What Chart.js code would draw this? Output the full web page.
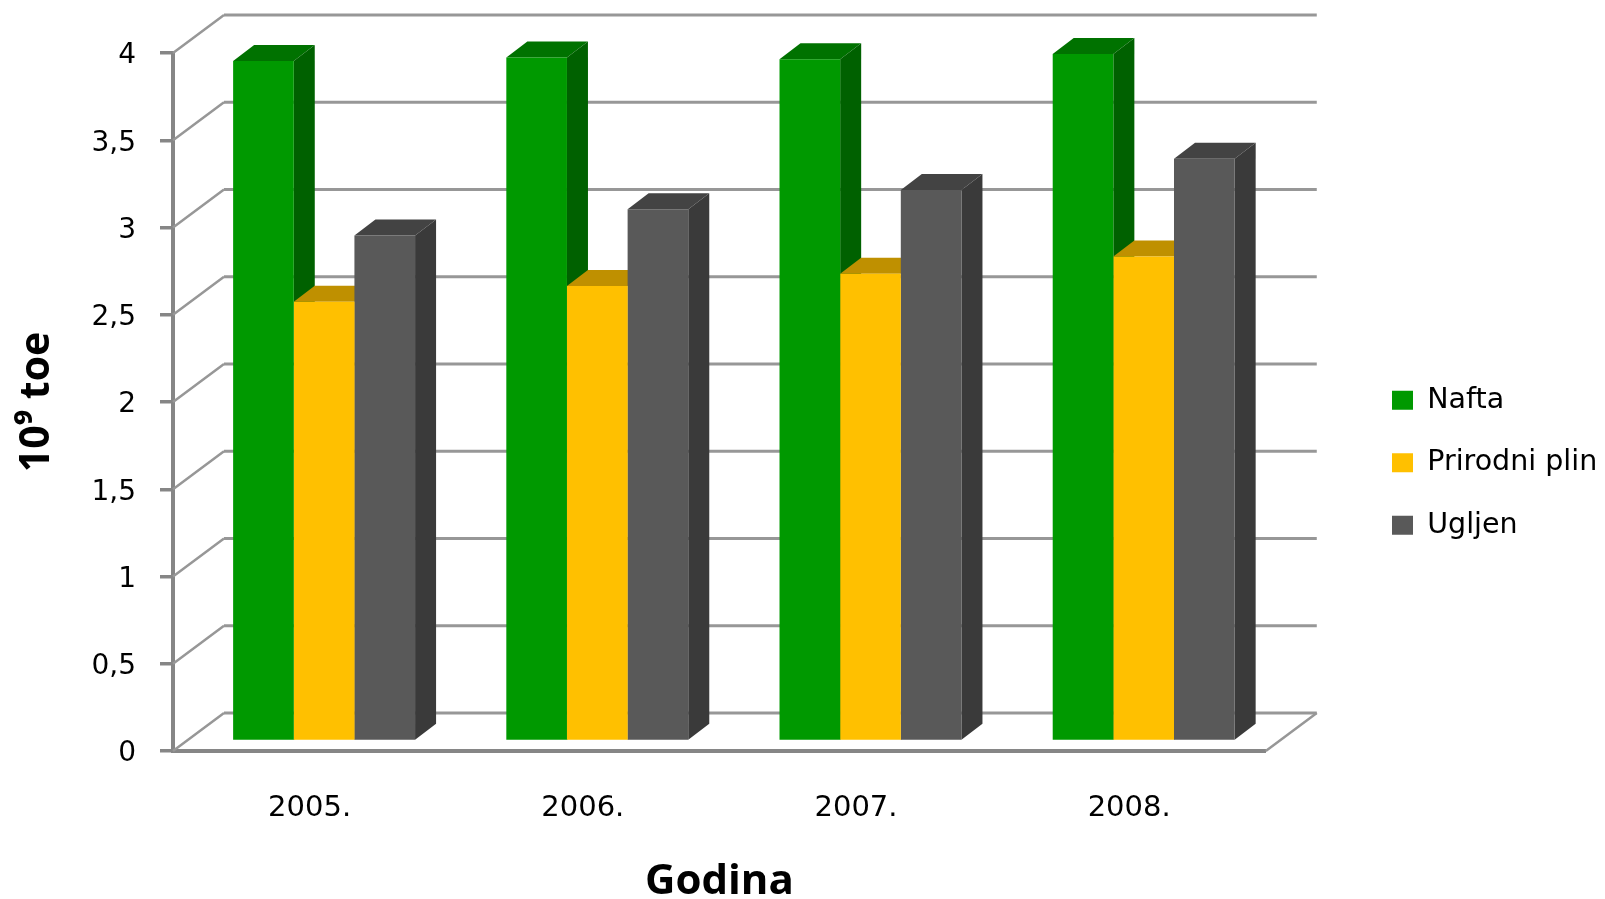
<!DOCTYPE html>
<html>
<head>
<meta charset="utf-8">
<script src="https://cdn.jsdelivr.net/npm/chart.js@4/dist/chart.umd.js"></script>
<style>
html, body { margin: 0; background: #fff; }
#wrap { width: 1605px; height: 899px; }
</style>
</head>
<body>
<div id="wrap"><canvas id="energyChart"></canvas></div>
<script>
// Data
const categories = ['2005.', '2006.', '2007.', '2008.'];
const naftaValues = [3.90, 3.92, 3.91, 3.94];
const plinValues = [2.52, 2.61, 2.68, 2.78];
const ugljenValues = [2.90, 3.05, 3.16, 3.34];
const yTickLabels = ['0', '0,5', '1', '1,5', '2', '2,5', '3', '3,5', '4'];

const frontColors = ['#009900', '#FFC000', '#595959'];
const sideColors = ['#006100', '#BF9000', '#3A3A3A'];
const topColors = ['#007200', '#BF9000', '#434343'];

const fontName = '"DejaVu Sans", sans-serif';
const titleFontName = '"Open Sans", sans-serif';

// bars stand inside the 3D floor, so they sit a little right of and above the front axis
const barShiftX = 14.5;
const barShiftY = -9.5;
const barDepthX = 21;
const barDepthY = 16;
// back wall offset
const wallX = 51;
const wallY = 38;

const wallPlugin = {
    id: 'wall3d',
    afterLayout(chart) {
        // legend sits away from the plot, not right next to it
        const l = chart.legend;
        l.left = 1358;
        l.right = l.left + l.width;
        l.top = 352;
        l.bottom = l.top + l.height;
    },
    beforeDatasetsDraw(chart) {
        const ctx = chart.ctx;
        const yScale = chart.scales.y;
        const area = chart.chartArea;

        ctx.save();
        ctx.strokeStyle = '#979797';
        yScale.ticks.forEach(function(tick) {
            const py = yScale.getPixelForValue(tick.value);
            ctx.lineWidth = 2.5;
            ctx.beginPath();
            ctx.moveTo(area.left, py);
            ctx.lineTo(area.left + wallX, py - wallY);
            ctx.stroke();
            ctx.lineWidth = 3;
            ctx.beginPath();
            ctx.moveTo(area.left + wallX, py - wallY);
            ctx.lineTo(area.right + wallX, py - wallY);
            ctx.stroke();
        });
        // right edge of the floor
        ctx.lineWidth = 2.5;
        ctx.beginPath();
        ctx.moveTo(area.right, yScale.getPixelForValue(0));
        ctx.lineTo(area.right + wallX, yScale.getPixelForValue(0) - wallY);
        ctx.stroke();
        ctx.restore();

        // left on until afterDatasetsDraw so the native fronts get the same shift
        ctx.save();
        ctx.translate(barShiftX, barShiftY);
        chart.data.datasets.forEach(function(ds, i) {
            chart.getDatasetMeta(i).data.forEach(function(bar) {
                const p = bar.getProps(['x', 'y', 'base', 'width'], true);
                const x0 = p.x - p.width / 2;
                const x1 = p.x + p.width / 2;
                ctx.fillStyle = topColors[i];
                ctx.beginPath();
                ctx.moveTo(x0, p.y);
                ctx.lineTo(x0 + barDepthX, p.y - barDepthY);
                ctx.lineTo(x1 + barDepthX, p.y - barDepthY);
                ctx.lineTo(x1, p.y);
                ctx.closePath();
                ctx.fill();
                ctx.fillStyle = sideColors[i];
                ctx.beginPath();
                ctx.moveTo(x1, p.y);
                ctx.lineTo(x1 + barDepthX, p.y - barDepthY);
                ctx.lineTo(x1 + barDepthX, p.base - barDepthY);
                ctx.lineTo(x1, p.base);
                ctx.closePath();
                ctx.fill();
            });
        });
    },
    afterDatasetsDraw(chart) {
        chart.ctx.restore();
    }
};

const energyChart = new Chart(document.getElementById('energyChart').getContext('2d'), {
    type: 'bar',
    plugins: [wallPlugin],
    data: {
        labels: categories,
        datasets: [
            { label: 'Nafta', data: naftaValues, backgroundColor: frontColors[0] },
            { label: 'Prirodni plin', data: plinValues, backgroundColor: frontColors[1] },
            { label: 'Ugljen', data: ugljenValues, backgroundColor: frontColors[2] }
        ]
    },
    options: {
        responsive: true,
        maintainAspectRatio: false,
        animation: false,
        datasets: { bar: { barPercentage: 1, categoryPercentage: 0.666 } },
        layout: { padding: { top: 53, right: 90, bottom: 0, left: 0 } },
        plugins: {
            tooltip: { enabled: false },
            legend: {
                position: 'right',
                align: 'start',
                labels: {
                    boxWidth: 21,
                    boxHeight: 19,
                    padding: 34,
                    color: '#000',
                    font: { family: fontName, size: 28.5 }
                }
            }
        },
        scales: {
            x: {
                afterFit: function(scale) { scale.height = 148; },
                grid: { display: false },
                border: { display: true, color: '#868686', width: 4 },
                ticks: { color: '#000', padding: 32, maxRotation: 0, font: { family: fontName, size: 29 } },
                title: {
                    display: true,
                    text: 'Godina',
                    color: '#000',
                    padding: { top: 0, bottom: 0 },
                    font: { family: titleFontName, size: 42, weight: 'bold', lineHeight: 0.8 }
                }
            },
            y: {
                min: 0,
                max: 4,
                afterFit: function(scale) { scale.width = 173; },
                grid: { drawOnChartArea: false, color: '#868686', lineWidth: 3.5, tickLength: 13 },
                border: { display: true, color: '#868686', width: 4 },
                ticks: {
                    stepSize: 0.5,
                    color: '#000',
                    padding: 24,
                    labelOffset: 3,
                    font: { family: fontName, size: 28 },
                    callback: function(value, index) { return yTickLabels[index]; }
                },
                title: {
                    display: true,
                    text: '10⁹ toe',
                    color: '#000',
                    padding: { top: 13, bottom: 0 },
                    font: { family: titleFontName, size: 41, weight: 'bold' }
                }
            }
        }
    }
});
</script>
</body>
</html>
